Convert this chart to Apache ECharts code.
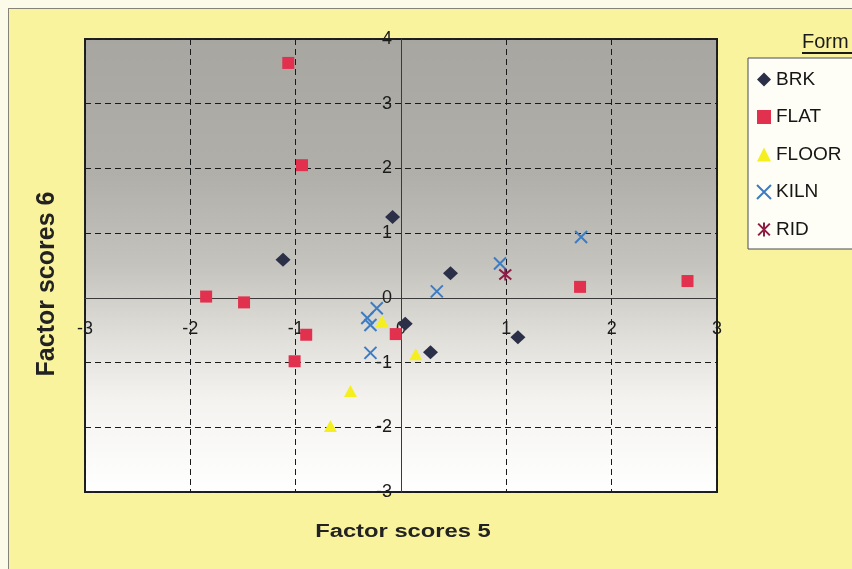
<!DOCTYPE html>
<html>
<head>
<meta charset="utf-8">
<script src="https://cdn.jsdelivr.net/npm/echarts@6/dist/echarts.min.js"></script>
<style>
  html, body { margin: 0; padding: 0; background: #fcfbea; overflow: hidden; }
  #frame { position: absolute; left: 8px; top: 8px; width: 870px; height: 580px;
           background: #faf39e; border: 1px solid #85837a; }
  #chart { position: absolute; left: 0; top: 0; width: 852px; height: 569px; }
</style>
</head>
<body>
<div id="frame"></div>
<div id="chart"></div>
<script>
// Factor scores 5 (x) against factor scores 6 (y), grouped by form
const formNames = ['BRK', 'FLAT', 'FLOOR', 'KILN', 'RID'];

const brk = [[-0.08, 1.25], [-1.12, 0.59], [0.47, 0.38], [0.04, -0.40], [0.28, -0.84], [1.11, -0.61]];
const flat = [[-1.07, 3.63], [-0.94, 2.05], [-1.85, 0.02], [-1.49, -0.07], [-0.90, -0.57],
              [-0.05, -0.56], [-1.01, -0.98], [1.70, 0.17], [2.72, 0.26]];
const floor = [[-0.18, -0.36], [0.14, -0.87], [-0.48, -1.44], [-0.67, -1.98]];
const kiln = [[-0.23, -0.16], [-0.32, -0.31], [-0.29, -0.42], [-0.29, -0.85],
              [0.34, 0.10], [0.94, 0.53], [1.71, 0.94]];
const rid = [[0.99, 0.36]];

const xTicks = { min: -3, max: 3, step: 1 };
const yTicks = { min: -3, max: 4, step: 1 };

const xTitle = 'Factor scores 5';
const yTitle = 'Factor scores 6';
const legendTitle = 'Form';

const FONT = "'Liberation Sans', Arial, sans-serif";
const crossPath = 'path://M0,0L10,10M10,0L0,10';
const starPath = 'path://M0,0L10,10M10,0L0,10M5,-1L5,11';

const chart = echarts.init(document.getElementById('chart'), null, { renderer: 'canvas' });

const labelStyle = { fontFamily: FONT, fontSize: 18, color: '#1c1c1c' };
const gridDash = { show: true, lineStyle: { color: '#1a1a1a', width: 1, type: [6, 4] } };

chart.setOption({
  backgroundColor: 'transparent',
  animation: false,
  textStyle: { fontFamily: FONT },
  grid: {
    left: 85, right: 135, top: 39, bottom: 77,
    outerBoundsMode: 'none',
    show: true,
    borderColor: '#202020',
    borderWidth: 2,
    backgroundColor: new echarts.graphic.LinearGradient(0, 0, 0, 1, [
      { offset: 0.00, color: '#a7a6a0' },
      { offset: 0.30, color: '#b0afa9' },
      { offset: 0.50, color: '#c4c3bd' },
      { offset: 0.66, color: '#e0dfda' },
      { offset: 0.80, color: '#f4f3f0' },
      { offset: 1.00, color: '#ffffff' }
    ])
  },
  xAxis: {
    type: 'value',
    min: xTicks.min, max: xTicks.max, interval: xTicks.step,
    axisLine: { show: true, onZero: true, lineStyle: { color: '#3a3a3a', width: 1 } },
    axisTick: { show: false },
    // tick labels sit just below the zero line, inside the plot
    axisLabel: Object.assign({ margin: -172 }, labelStyle),
    splitLine: gridDash
  },
  yAxis: {
    type: 'value',
    min: yTicks.min, max: yTicks.max, interval: yTicks.step,
    axisLine: { show: true, onZero: true, lineStyle: { color: '#3a3a3a', width: 1 } },
    axisTick: { show: false },
    // tick labels sit just left of the zero line, inside the plot
    axisLabel: Object.assign({ margin: -307 }, labelStyle),
    splitLine: gridDash
  },
  legend: {
    data: formNames,
    orient: 'vertical',
    left: 748,
    top: 58,
    padding: [12, 40, 10, 8],
    itemGap: 18.5,
    itemWidth: 14,
    itemHeight: 14,
    backgroundColor: '#fefef6',
    borderColor: '#4a4a4a',
    borderWidth: 1,
    borderRadius: 0,
    textStyle: { fontFamily: FONT, fontSize: 19, color: '#151515', lineHeight: 18 }
  },
  graphic: [
    {
      // horizontal axis title, drawn a little wide
      type: 'text', x: 403, y: 532, scaleX: 1.32, silent: true,
      style: {
        text: xTitle, font: "bold 18px 'Liberation Sans', Arial, sans-serif",
        fill: '#222', textAlign: 'center', textVerticalAlign: 'middle'
      }
    },
    {
      // vertical axis title, reading bottom to top
      type: 'text', x: 47, y: 284, rotation: Math.PI / 2, silent: true,
      style: {
        text: yTitle, font: "bold 25px 'Liberation Sans', Arial, sans-serif",
        fill: '#222', textAlign: 'center', textVerticalAlign: 'middle'
      }
    },
    {
      type: 'text', left: 802, top: 32, silent: true,
      style: { text: legendTitle, font: "20px 'Liberation Sans', Arial, sans-serif", fill: '#1a1a1a' }
    },
    {
      type: 'line', silent: true,
      shape: { x1: 802, y1: 53, x2: 852, y2: 53 },
      style: { stroke: '#1a1a1a', lineWidth: 2 }
    }
  ],
  series: [
    {
      name: 'BRK', type: 'scatter', data: brk,
      symbol: 'diamond', symbolSize: [15, 14],
      itemStyle: { color: '#2b2f48', opacity: 1 }
    },
    {
      name: 'FLAT', type: 'scatter', data: flat,
      symbol: 'rect', symbolSize: 12,
      itemStyle: { color: '#e2314e', opacity: 1 }
    },
    {
      name: 'FLOOR', type: 'scatter', data: floor,
      symbol: 'triangle', symbolSize: [13, 12],
      itemStyle: { color: '#f6ef1f', opacity: 1 }
    },
    {
      name: 'KILN', type: 'scatter', data: kiln,
      symbol: crossPath, symbolSize: 12,
      itemStyle: { color: '#3d7cc2', borderColor: '#3d7cc2', borderWidth: 2, opacity: 1 }
    },
    {
      name: 'RID', type: 'scatter', data: rid,
      symbol: starPath, symbolSize: 12,
      itemStyle: { color: '#8e1c45', borderColor: '#8e1c45', borderWidth: 2, opacity: 1 }
    }
  ]
});
</script>
</body>
</html>
